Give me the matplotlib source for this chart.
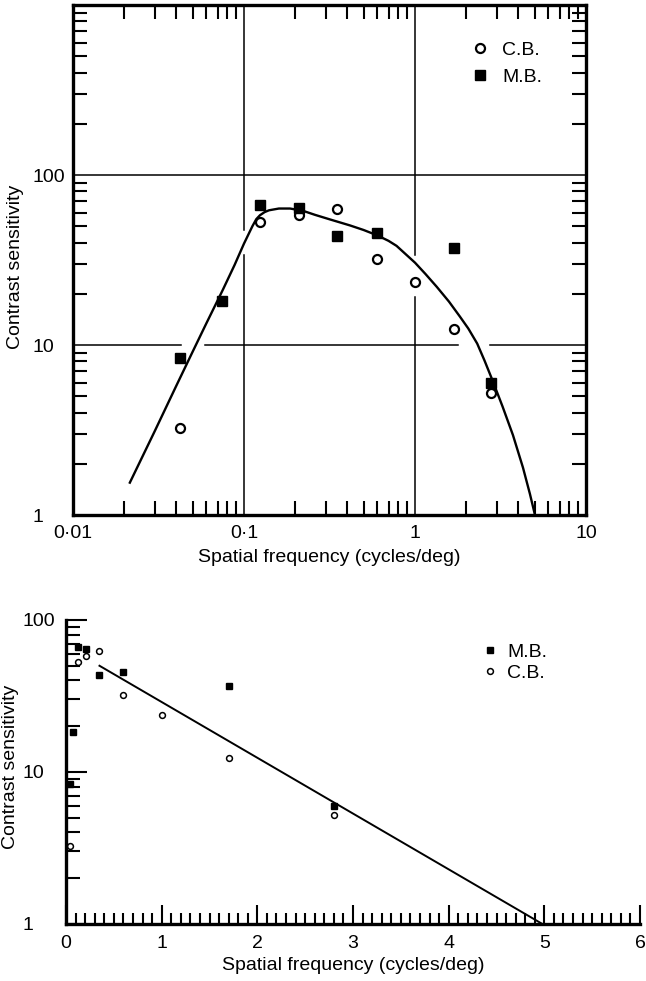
import matplotlib
matplotlib.use('Agg')
import matplotlib.pyplot as plt
from matplotlib.ticker import FixedLocator, FixedFormatter, LogLocator, MultipleLocator, NullFormatter

plt.rcParams['font.family'] = ['Liberation Sans', 'DejaVu Sans']
plt.rcParams['font.size'] = 14

# data
freq_cb = [0.042, 0.124, 0.21, 0.35, 0.6, 1.0, 1.7, 2.8]
sens_cb = [3.25, 53, 58, 63, 32, 23.6, 12.4, 5.25]
freq_mb = [0.042, 0.074, 0.124, 0.21, 0.35, 0.6, 1.7, 2.8]
sens_mb = [8.4, 18.2, 66.5, 64, 43.5, 45.5, 37, 6.0]

# fitted curve (top panel)
curve_f = [0.0215, 0.03, 0.04, 0.05, 0.06, 0.075, 0.088, 0.1, 0.112, 0.118, 0.124, 0.132,
           0.14, 0.16, 0.186, 0.222, 0.26, 0.318, 0.417, 0.5, 0.6, 0.7, 0.78, 1.0, 1.15,
           1.34, 1.58, 1.83, 2.05, 2.31, 2.55, 2.82, 3.25, 3.74, 4.28, 4.7, 5.03]
curve_s = [1.55, 3.1, 5.7, 9.1, 13.3, 21, 29.5, 39.5, 50, 55, 58, 60.5,
           62, 63.5, 63.5, 61.5, 58.3, 54.8, 50.5, 47.5, 44.2, 41, 38.3, 30.5, 26.2,
           22, 18, 14.7, 12.5, 10.2, 8.1, 6.3, 4.35, 2.95, 1.9, 1.33, 1.0]

# straight line (bottom panel)
line_f = [0.35, 4.98]
line_s = [50, 1.0]

W, H = 646, 981
fig = plt.figure(figsize=(W / 100, H / 100), dpi=100)


def gridline(ax, val, lo, hi, gaps=(), vertical=True):
    edges = [lo] + [g for gap in gaps for g in gap] + [hi]
    for a, b in zip(edges[::2], edges[1::2]):
        if vertical:
            ax.plot([val, val], [a, b], color='black', lw=1.1, zorder=1)
        else:
            ax.plot([a, b], [val, val], color='black', lw=1.1, zorder=1)


# ---- top panel: log-log ----
ax1 = fig.add_axes([73 / W, 1 - 515 / H, 513 / W, 510 / H])
ax1.set_xscale('log')
ax1.set_yscale('log')
ax1.set_xlim(0.01, 10)
ax1.set_ylim(1, 1000)

gridline(ax1, 0.1, 1, 1000, [(33.8, 47.5)])
gridline(ax1, 1, 1, 1000, [(19.2, 34)])
gridline(ax1, 10, 0.01, 10, [(0.043, 0.059), (1.78, 2.75)], vertical=False)
gridline(ax1, 100, 0.01, 10, vertical=False)

ax1.plot(curve_f, curve_s, color='black', lw=1.7, zorder=2)
ax1.plot(freq_cb, sens_cb, 'o', ms=6.5, mfc='white', mec='black', mew=1.6, zorder=3, label='C.B.')
ax1.plot(freq_mb, sens_mb, 's', ms=7, color='black', zorder=3, label='M.B.')

ax1.xaxis.set_major_locator(FixedLocator([0.01, 0.1, 1, 10]))
ax1.xaxis.set_major_formatter(FixedFormatter(['0·01', '0·1', '1', '10']))
ax1.xaxis.set_minor_locator(LogLocator(base=10, subs=range(2, 10)))
ax1.xaxis.set_minor_formatter(NullFormatter())
ax1.yaxis.set_major_locator(FixedLocator([1, 10, 100]))
ax1.yaxis.set_major_formatter(FixedFormatter(['1', '10', '100']))
ax1.yaxis.set_minor_locator(LogLocator(base=10, subs=range(2, 10)))
ax1.yaxis.set_minor_formatter(NullFormatter())
ax1.tick_params(which='both', direction='in', top=True, right=True, width=1.5, labelsize=14)
ax1.tick_params(which='major', length=0)
ax1.tick_params(which='minor', length=10)
ax1.tick_params(axis='x', which='major', pad=7)
ax1.tick_params(axis='y', which='major', pad=29)
for t in ax1.get_yticklabels():
    t.set_horizontalalignment('left')
for s in ax1.spines.values():
    s.set_linewidth(2.4)

ax1.set_xlabel('Spatial frequency (cycles/deg)', fontsize=14, va='center')
ax1.xaxis.set_label_coords(0.5, -(557 - 515) / 510)
fig.text(16 / W, 1 - 267 / H, 'Contrast sensitivity', rotation=90, ha='center', va='center', fontsize=14)

ax1.legend(loc='center left', bbox_to_anchor=(0.7745, 0.885), frameon=False, fontsize=14,
           borderpad=0, borderaxespad=0, handlelength=1.0, handletextpad=0.63, labelspacing=0.45,
           numpoints=1)

# ---- bottom panel: linear x, log y ----
ax2 = fig.add_axes([66 / W, 1 - 924 / H, 574 / W, 304 / H])
ax2.set_yscale('log')
ax2.set_xlim(0, 6)
ax2.set_ylim(1, 100)

ax2.plot(line_f, line_s, color='black', lw=1.4, zorder=2)
ax2.plot(freq_mb, sens_mb, 's', ms=5, color='black', zorder=3, label='M.B.')
ax2.plot(freq_cb, sens_cb, 'o', ms=4.2, mfc='white', mec='black', mew=1.1, zorder=3, label='C.B.')

ax2.spines['top'].set_visible(False)
ax2.spines['right'].set_visible(False)
for s in ax2.spines.values():
    s.set_linewidth(2.4)
ax2.spines['left'].set_zorder(4)

ax2.xaxis.set_major_locator(MultipleLocator(1))
ax2.xaxis.set_minor_locator(MultipleLocator(0.1))
ax2.yaxis.set_major_locator(FixedLocator([1, 10, 100]))
ax2.yaxis.set_major_formatter(FixedFormatter(['1', '10', '100']))
ax2.yaxis.set_minor_locator(LogLocator(base=10, subs=range(2, 10)))
ax2.yaxis.set_minor_formatter(NullFormatter())
ax2.tick_params(which='both', direction='in', width=1.5, labelsize=14)
ax2.tick_params(axis='x', which='major', length=14, pad=8)
ax2.tick_params(axis='x', which='minor', length=8)
ax2.tick_params(axis='y', which='major', length=15, pad=31)
ax2.tick_params(axis='y', which='minor', length=10)
for t in ax2.get_yticklabels():
    t.set_horizontalalignment('left')

ax2.set_xlabel('Spatial frequency (cycles/deg)', fontsize=14, va='center')
ax2.xaxis.set_label_coords(0.5, -(965 - 924) / 304)
fig.text(11 / W, 1 - 767 / H, 'Contrast sensitivity', rotation=90, ha='center', va='center', fontsize=14)

ax2.legend(loc='center left', bbox_to_anchor=(0.7218, 0.860), frameon=False, fontsize=14,
           borderpad=0, borderaxespad=0, handlelength=1.0, handletextpad=0.38, labelspacing=0.15,
           numpoints=1)

fig.savefig('out.png', dpi=100)
